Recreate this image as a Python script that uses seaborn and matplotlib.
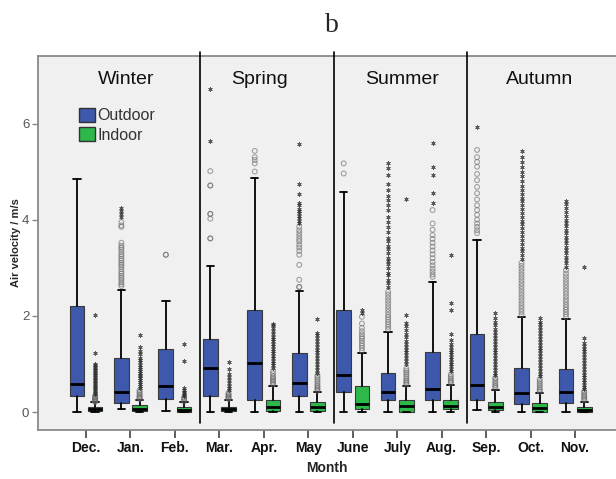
import matplotlib
matplotlib.use("Agg")
import matplotlib.pyplot as plt
from matplotlib.patches import Patch
import numpy as np
import pandas as pd
import seaborn as sns

sns.set_style("white")
plt.rcParams["font.family"] = ["Liberation Sans", "DejaVu Sans"]

# ---------------------------------------------------------------- data
months = ["Dec.", "Jan.", "Feb.", "Mar.", "Apr.", "May",
          "June", "July", "Aug.", "Sep.", "Oct.", "Nov."]
seasons = ["Winter", "Spring", "Summer", "Autumn"]
groups = ["Outdoor", "Indoor"]
y_ticks = [0, 2, 4, 6]

# box summaries (m/s): lower whisker, Q1, median, Q3, upper whisker
outdoor_whislo = [0.00, 0.06, 0.03, 0.00, 0.00, 0.00, 0.00, 0.00, 0.00, 0.04, 0.00, 0.00]
outdoor_q1     = [0.33, 0.18, 0.28, 0.33, 0.24, 0.33, 0.42, 0.24, 0.25, 0.26, 0.17, 0.19]
outdoor_med    = [0.59, 0.41, 0.54, 0.92, 1.02, 0.61, 0.78, 0.42, 0.48, 0.56, 0.40, 0.42]
outdoor_q3     = [2.20, 1.13, 1.32, 1.51, 2.13, 1.22, 2.12, 0.82, 1.25, 1.62, 0.91, 0.89]
outdoor_whishi = [4.85, 2.54, 2.31, 3.03, 4.87, 2.52, 4.58, 1.66, 2.71, 3.58, 1.98, 1.93]

indoor_whislo = [0.00, 0.00, 0.00, 0.00, 0.00, 0.00, 0.00, 0.00, 0.00, 0.00, 0.00, 0.00]
indoor_q1     = [0.03, 0.03, 0.00, 0.02, 0.02, 0.02, 0.06, 0.00, 0.06, 0.04, 0.00, 0.00]
indoor_med    = [0.06, 0.07, 0.05, 0.06, 0.11, 0.11, 0.17, 0.12, 0.13, 0.11, 0.09, 0.05]
indoor_q3     = [0.11, 0.15, 0.10, 0.11, 0.24, 0.21, 0.54, 0.24, 0.25, 0.21, 0.18, 0.11]
indoor_whishi = [0.20, 0.24, 0.20, 0.24, 0.54, 0.41, 1.23, 0.54, 0.56, 0.46, 0.39, 0.21]

# outliers (circles) and extreme values (asterisks), one list per month
outdoor_outliers = [
    [],
    [2.62, 2.66, 2.70, 2.75, 2.79, 2.83, 2.88, 2.92, 2.97, 3.02, 3.06, 3.10, 3.15,
     3.19, 3.24, 3.28, 3.33, 3.38, 3.42, 3.46, 3.52, 3.85, 3.88, 3.95],
    [3.27, 3.27],
    [3.61, 3.61, 4.02, 4.12, 4.12, 4.71, 4.71, 5.01],
    [5.00, 5.17, 5.24, 5.30, 5.43],
    [2.60, 2.60, 2.75, 3.06, 3.27, 3.35, 3.42, 3.48, 3.55, 3.60, 3.66, 3.72, 3.78, 3.85],
    [4.96, 5.17],
    [1.72, 1.77, 1.82, 1.87, 1.92, 1.97, 2.02, 2.08, 2.14, 2.20, 2.26, 2.32, 2.38,
     2.44, 2.50],
    [2.81, 2.86, 2.92, 2.98, 3.05, 3.12, 3.20, 3.28, 3.36, 3.44, 3.52, 3.60, 3.68,
     3.79, 3.92, 4.20],
    [3.72, 3.78, 3.85, 3.92, 4.00, 4.10, 4.20, 4.30, 4.42, 4.55, 4.68, 4.82, 4.95,
     5.10, 5.20, 5.30, 5.45],
    [2.02, 2.08, 2.14, 2.20, 2.26, 2.32, 2.38, 2.44, 2.50, 2.56, 2.62, 2.68, 2.74,
     2.80, 2.86, 2.92, 2.98, 3.04, 3.10],
    [1.98, 2.03, 2.08, 2.13, 2.18, 2.23, 2.29, 2.34, 2.40, 2.46, 2.52, 2.58, 2.64,
     2.70, 2.76, 2.82, 2.88, 2.95],
]
outdoor_extremes = [
    [],
    [4.06, 4.12, 4.18, 4.25],
    [],
    [5.64, 6.71],
    [],
    [3.93, 3.98, 4.03, 4.08, 4.13, 4.18, 4.23, 4.30, 4.34, 4.53, 4.74, 5.57],
    [],
    [2.60, 2.68, 2.75, 2.84, 2.90, 3.00, 3.08, 3.15, 3.20, 3.30, 3.38, 3.45, 3.55,
     3.62, 3.75, 3.85, 3.95, 4.05, 4.20, 4.30, 4.40, 4.50, 4.62, 4.75, 4.93, 5.07, 5.17],
    [4.34, 4.56, 4.93, 5.10, 5.59],
    [5.93],
    [3.18, 3.26, 3.34, 3.42, 3.50, 3.58, 3.66, 3.74, 3.82, 3.90, 3.98, 4.06, 4.14,
     4.22, 4.30, 4.38, 4.46, 4.54, 4.62, 4.70, 4.80, 4.90, 5.00, 5.10, 5.20, 5.30, 5.43],
    [3.02, 3.09, 3.16, 3.23, 3.30, 3.37, 3.44, 3.51, 3.58, 3.65, 3.72, 3.79, 3.86,
     3.93, 4.00, 4.08, 4.16, 4.24, 4.32, 4.39],
]
indoor_outliers = [
    [0.21, 0.22, 0.24, 0.25, 0.27, 0.28, 0.30, 0.32, 0.34],
    [0.27, 0.29, 0.31, 0.33, 0.36, 0.39, 0.42, 0.45],
    [0.22, 0.25, 0.28, 0.30],
    [0.27, 0.29, 0.31, 0.33, 0.35, 0.37, 0.40],
    [0.57, 0.60, 0.63, 0.66, 0.69, 0.72, 0.75, 0.80, 0.85],
    [0.44, 0.47, 0.50, 0.53, 0.56, 0.60, 0.64, 0.68, 0.72, 0.76],
    [1.28, 1.33, 1.38, 1.43, 1.48, 1.53, 1.57, 1.62, 1.68, 1.75, 1.84, 1.98],
    [0.57, 0.60, 0.63, 0.66, 0.70, 0.74, 0.78, 0.82, 0.86, 0.90],
    [0.60, 0.63, 0.66, 0.70, 0.74, 0.78],
    [0.50, 0.53, 0.56, 0.60, 0.64, 0.68, 0.71],
    [0.42, 0.45, 0.48, 0.52, 0.56, 0.60, 0.64, 0.68],
    [0.24, 0.27, 0.30, 0.33, 0.36, 0.40, 0.43],
]
indoor_extremes = [
    [0.37, 0.40, 0.43, 0.46, 0.49, 0.52, 0.55, 0.58, 0.61, 0.64, 0.67, 0.70, 0.73,
     0.76, 0.79, 0.82, 0.85, 0.88, 0.91, 0.94, 0.97, 1.00, 1.22, 2.02],
    [0.50, 0.54, 0.58, 0.62, 0.66, 0.70, 0.74, 0.78, 0.82, 0.86, 0.90, 0.94, 0.98,
     1.03, 1.08, 1.13, 1.20, 1.27, 1.35, 1.60],
    [0.33, 0.36, 0.39, 0.42, 0.45, 0.50, 1.07, 1.42],
    [0.45, 0.50, 0.55, 0.60, 0.66, 0.72, 0.80, 0.90, 1.03],
    [0.92, 0.97, 1.02, 1.07, 1.12, 1.17, 1.22, 1.27, 1.32, 1.37, 1.42, 1.47, 1.52,
     1.57, 1.62, 1.68, 1.74, 1.80, 1.84],
    [0.82, 0.88, 0.94, 1.00, 1.06, 1.12, 1.18, 1.24, 1.30, 1.36, 1.42, 1.48, 1.54,
     1.60, 1.65, 1.93],
    [2.05, 2.12],
    [1.00, 1.06, 1.12, 1.18, 1.24, 1.30, 1.36, 1.42, 1.48, 1.55, 1.62, 1.70, 1.78,
     1.86, 2.02, 4.44],
    [0.85, 0.90, 0.95, 1.00, 1.05, 1.10, 1.15, 1.20, 1.25, 1.30, 1.35, 1.42, 1.50,
     1.62, 2.12, 2.26, 3.27],
    [0.76, 0.82, 0.88, 0.94, 1.00, 1.06, 1.12, 1.18, 1.24, 1.30, 1.36, 1.42, 1.48,
     1.54, 1.60, 1.66, 1.72, 1.80, 1.88, 1.95, 2.05],
    [0.74, 0.80, 0.86, 0.92, 0.98, 1.04, 1.10, 1.16, 1.22, 1.28, 1.34, 1.40, 1.46,
     1.52, 1.58, 1.64, 1.70, 1.76, 1.82, 1.88, 1.95],
    [0.47, 0.52, 0.57, 0.62, 0.67, 0.72, 0.78, 0.84, 0.90, 0.96, 1.02, 1.08, 1.14,
     1.20, 1.26, 1.32, 1.38, 1.44, 1.53, 3.01],
]

# ---------------------------------------------------------------- style
colors = {"Outdoor": "#3e58ab", "Indoor": "#2db84a"}
offsets = {"Outdoor": -0.205, "Indoor": 0.205}
box_width = 0.33
panel_color = "#f0f0f0"
spine_color = "#8a8a8a"

summary = {
    "Outdoor": (outdoor_whislo, outdoor_q1, outdoor_med, outdoor_q3, outdoor_whishi),
    "Indoor": (indoor_whislo, indoor_q1, indoor_med, indoor_q3, indoor_whishi),
}
flier_lists = {
    "Outdoor": (outdoor_outliers, outdoor_extremes),
    "Indoor": (indoor_outliers, indoor_extremes),
}

# long table of outlying points
rows = []
for g in groups:
    mild, extreme = flier_lists[g]
    for i, m in enumerate(months):
        for v in mild[i]:
            rows.append({"month": m, "group": g, "kind": "outlier",
                         "x": i + offsets[g], "value": v})
        for v in extreme[i]:
            rows.append({"month": m, "group": g, "kind": "extreme",
                         "x": i + offsets[g], "value": v})
fliers = pd.DataFrame(rows)

# ---------------------------------------------------------------- figure
fig = plt.figure(figsize=(6.16, 4.79), dpi=100)
ax = fig.add_axes([37.7 / 616, 1 - 430 / 479, 1 - 37.7 / 616, (430 - 55.7) / 479])
ax.set_facecolor(panel_color)

for g in groups:
    lo, q1, med, q3, hi = summary[g]
    stats = [dict(whislo=lo[i], q1=q1[i], med=med[i], q3=q3[i], whishi=hi[i],
                  fliers=[], label=months[i]) for i in range(len(months))]
    ax.bxp(stats, positions=[i + offsets[g] for i in range(len(months))],
           widths=box_width, capwidths=box_width * 0.5, patch_artist=True,
           showfliers=False, manage_ticks=False,
           boxprops=dict(facecolor=colors[g], edgecolor="#3a3a3a", linewidth=0.8),
           medianprops=dict(color="black", linewidth=2.0),
           whiskerprops=dict(color="black", linewidth=1.3),
           capprops=dict(color="black", linewidth=1.3), zorder=3)

sns.scatterplot(data=fliers[fliers["kind"] == "outlier"], x="x", y="value",
                marker="o", s=12, facecolor="none", edgecolor="#6a6a6a",
                linewidth=0.8, alpha=0.6, legend=False, ax=ax, zorder=4)
sns.scatterplot(data=fliers[fliers["kind"] == "extreme"], x="x", y="value",
                marker=(6, 2, 0), s=7, color="#333333", linewidth=0.6,
                alpha=0.8, legend=False, ax=ax, zorder=4)

ax.set_xlim(-1.087, 11.92)
ax.set_ylim(-0.374, 7.41)

# season dividers and names
for xd in [2.565, 5.58, 8.56]:
    ax.plot([xd, xd], [-0.23, 7.48], color="black", linewidth=1.2,
            clip_on=False, zorder=5)
for name, xs in zip(seasons, [0.90, 3.91, 7.11, 10.19]):
    ax.text(xs, 6.905, name, ha="center", va="center", fontsize=14,
            color="#111111")

# axes
ax.set_xticks(range(len(months)))
ax.set_xticklabels(months, fontsize=10, fontweight="bold", color="#111111")
ax.set_yticks(y_ticks)
ax.set_yticklabels([str(t) for t in y_ticks], fontsize=9.5, color="#555555")
ax.tick_params(axis="x", length=6, width=1.2, color="#444444", pad=2, direction="out",
               bottom=True)
ax.tick_params(axis="y", length=4, width=1.0, color=spine_color, pad=2, direction="out",
               left=True)
for side in ["top", "left", "bottom"]:
    ax.spines[side].set_color(spine_color)
    ax.spines[side].set_linewidth(1.3)
ax.spines["right"].set_visible(False)
ax.set_xlabel("Month", fontsize=10, fontweight="bold", labelpad=4)
ax.set_ylabel("Air velocity / m/s", fontsize=8, fontweight="bold", labelpad=1)

handles = [Patch(facecolor=colors[g], edgecolor="#333333", linewidth=1.0, label=g)
           for g in groups]
ax.legend(handles=handles, loc="upper left", bbox_to_anchor=(0.072, 0.86),
          frameon=False, fontsize=11.5, handlelength=0.95, handleheight=0.95,
          handletextpad=0.2, labelspacing=0.25, borderpad=0, borderaxespad=0,
          labelcolor="#333333")

fig.text(332 / 616, 1 - 25 / 479, "b", ha="center", va="center", fontsize=20,
         family="Liberation Serif")

fig.savefig("out.png", dpi=100, facecolor="white")
